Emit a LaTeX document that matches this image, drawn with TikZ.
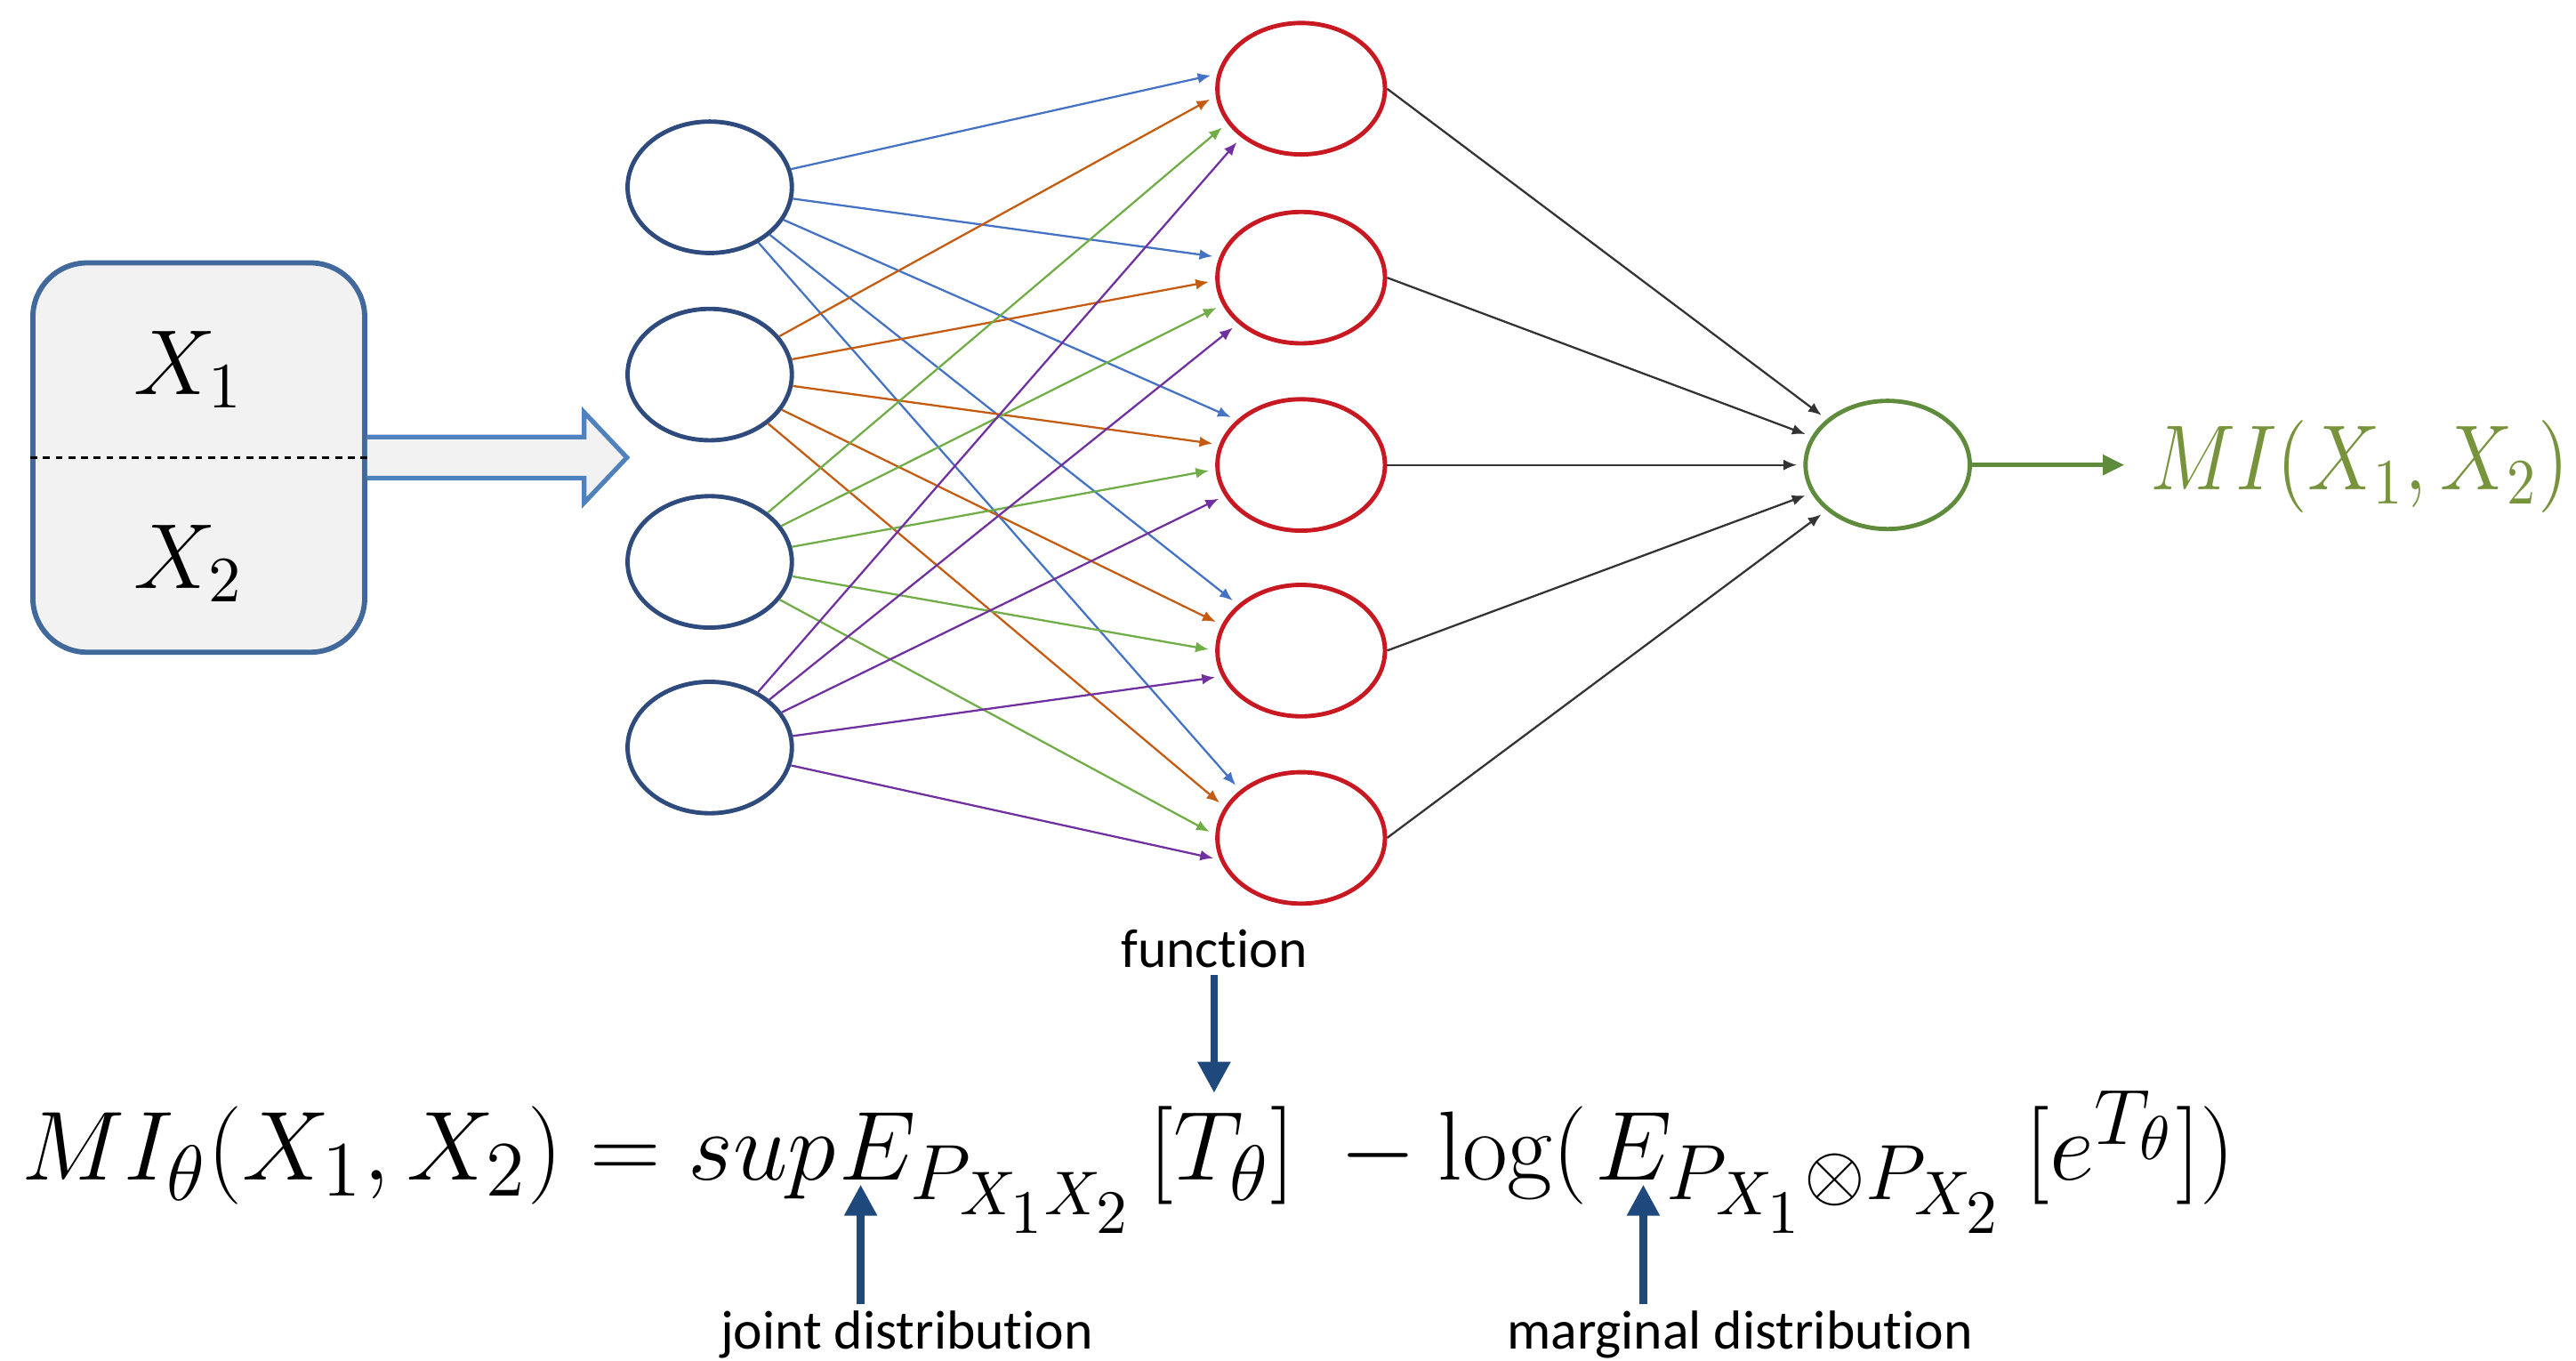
\documentclass[tikz,border=0pt]{standalone}
\usepackage{fix-cm}
\usepackage{amsmath}
\usepackage{fontspec}
\newfontfamily\notefont[Ligatures=NoCommon]{Carlito}
\DeclareMathSizes{17}{17}{13.6}{10.7}
\usetikzlibrary{arrows.meta, positioning, shapes.geometric}
\definecolor{boxblue}{RGB}{65,105,155}
\definecolor{arrowfill}{RGB}{242,242,242}
\definecolor{blockblue}{RGB}{79,129,189}
\definecolor{inblue}{RGB}{47,75,125}
\definecolor{hidred}{RGB}{200,25,35}
\definecolor{outgreen}{RGB}{95,140,60}
\definecolor{migreen}{RGB}{119,147,60}
\definecolor{pointblue}{RGB}{31,73,125}
\definecolor{wire1}{RGB}{68,114,196}
\definecolor{wire2}{RGB}{197,90,17}
\definecolor{wire3}{RGB}{112,173,71}
\definecolor{wire4}{RGB}{112,48,160}

\begin{document}
\begin{tikzpicture}[
  neuron/.style={ellipse, draw, line width=0.75pt, minimum width=1.0cm, minimum height=0.8cm, inner sep=0pt},
  inneuron/.style={neuron, draw=inblue},
  hidneuron/.style={neuron, draw=hidred, minimum width=1.02cm},
  outneuron/.style={neuron, draw=outgreen, minimum height=0.78cm},
  inbox/.style={draw=boxblue, fill=arrowfill, line width=0.9pt, rounded corners=0.33cm,
                minimum width=2.02cm, minimum height=2.37cm},
  blockarrow/.style={draw=blockblue, fill=arrowfill, line width=0.8pt, line join=miter},
  wire/.style={line width=0.35pt, -{Latex[length=0.8mm,width=0.65mm]}, shorten >=0.4mm},
  outarrow/.style={draw=outgreen, line width=0.8pt, -{Triangle[length=1.3mm,width=1.2mm]}, shorten >=1.5mm},
  pointer/.style={draw=pointblue, line width=1.3pt, -{Triangle[length=1.9mm,width=1.9mm]}},
  bigmath/.style={font=\fontsize{16}{19}\selectfont, inner sep=0pt},
  formula/.style={font=\fontsize{17}{21}\selectfont, inner sep=0pt, outer sep=0pt, anchor=base west},
  notetext/.style={font=\notefont\fontsize{9.5}{11}\selectfont, inner sep=1pt, anchor=base}
]
\useasboundingbox (0,0) rectangle (15.68,8.28);

% input block
\node[inbox] (data) at (1.21,5.495) {};
\draw[dashed, dash pattern=on 1.2pt off 1pt, line width=0.4pt] (data.west) -- (data.east);
\node[bigmath] (x1) at (1.15,6.03) {$X_1$};
\node[bigmath] (x2) at (1.15,4.85) {$X_2$};
\draw[blockarrow] ([yshift=1.25mm]data.east) -- ++(13.2mm,0) -- ++(0,1.5mm) -- ++(2.6mm,-2.75mm)
  -- ++(-2.6mm,-2.75mm) -- ++(0,1.5mm) -- ++(-13.2mm,0);

% layers
\foreach \k/\y in {1/7.14, 2/6.00, 3/4.86, 4/3.73}
  \node[inneuron] (i\k) at (4.32,\y) {};
\foreach \k/\y in {1/7.74, 2/6.59, 3/5.45, 4/4.32, 5/3.18}
  \node[hidneuron] (h\k) at (7.92,\y) {};
\node[outneuron] (out) at (11.49,5.45) {};

% input -> hidden
\foreach \i/\j/\a in {1/1/170, 1/2/166, 1/3/145, 1/4/144, 1/5/142,
                      2/1/185, 2/2/182, 2/3/166, 2/4/162, 2/5/158,
                      3/1/205, 3/2/199, 3/3/183, 3/4/180, 3/5/178,
                      4/1/219, 4/2/216, 4/3/202, 4/4/198, 4/5/195}
  \draw[wire, wire\i] (i\i) -- (h\j.\a);

% hidden -> output
\foreach \j in {1,...,5}
  \draw[wire, black!80] (h\j.east) -- (out);

\node[bigmath, anchor=west, text=migreen] (mi) at (13.08,5.44) {\scalebox{0.88}[1]{$MI(X_1,X_2)$}};
\draw[outarrow] (out) -- (out -| mi.west);

% formula
\node[formula] (lhs) at (0.13,1.10) {$MI_\theta(X_1,X_2) = sup$};
\node[formula] (ejoint) at ([xshift=0.2mm]lhs.base east) {$E_{P_{X_1X_2}}$};
\node[formula] (tfun) at ([xshift=0.8mm]ejoint.base east) {$[T_\theta]$};
\node[formula] (logpart) at ([xshift=1.4mm]tfun.base east) {${}-\log($};
\node[formula] (emarg) at ([xshift=0.5mm]logpart.base east) {$E_{P_{X_1}\otimes P_{X_2}}$};
\node[formula] (rest) at ([xshift=1.2mm]emarg.base east) {$[e^{T_\theta}])$};

% notes
\node[notetext] (func) at (7.39,2.39) {function};
\node[notetext] (joint) at (5.52,0.07) {joint distribution};
\node[notetext] (marg) at (10.59,0.07) {marginal distribution};
\coordinate (jtip) at ([xshift=1.3mm, yshift=-0.3mm]ejoint.base west);
\coordinate (mtip) at ([xshift=2.9mm, yshift=-0.3mm]emarg.base west);
\draw[pointer] (func.south) -- ([yshift=0.8mm]func.south |- tfun.north);
\draw[pointer] (joint.north -| jtip) -- (jtip);
\draw[pointer] (marg.north -| mtip) -- (mtip);
\end{tikzpicture}
\end{document}
